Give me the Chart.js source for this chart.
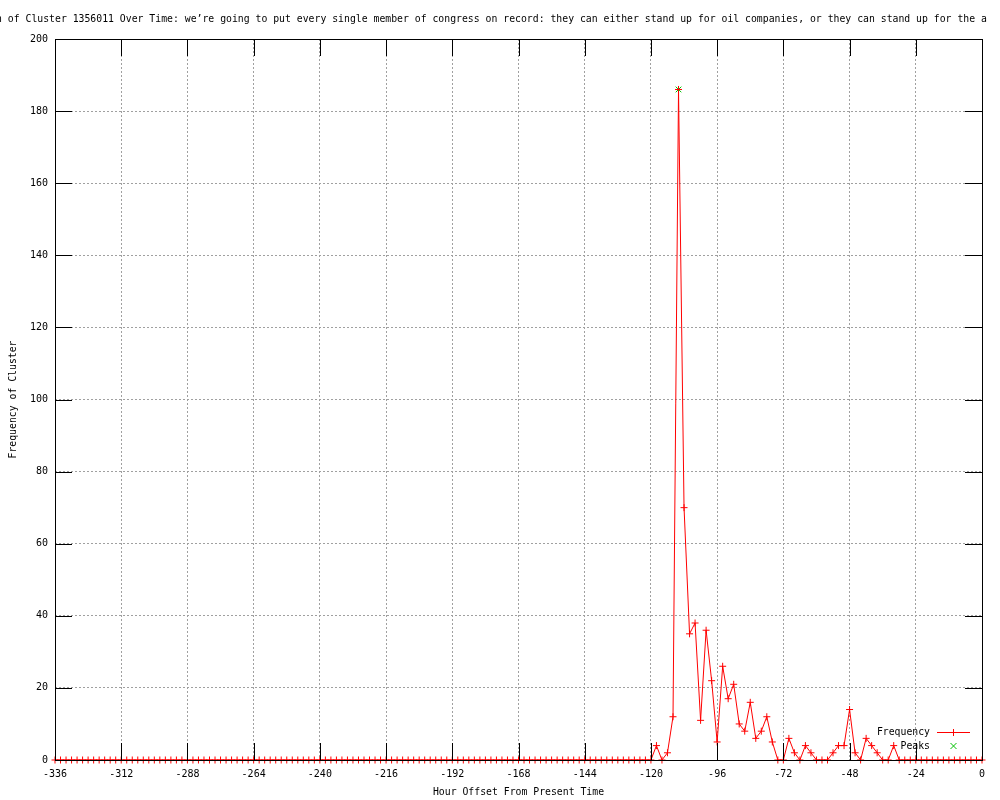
<!DOCTYPE html>
<html>
<head>
<meta charset="utf-8">
<script src="https://cdn.jsdelivr.net/npm/chart.js@4"></script>
<style>
  html, body { margin: 0; padding: 0; background: #fff; }
  canvas { display: block; }
</style>
</head>
<body>
<canvas id="myChart" width="1000" height="800"></canvas>
<script>
const titleText = "n of Cluster 1356011 Over Time: we\u2019re going to put every single member of congress on record: they can either stand up for oil companies, or they can stand up for the a";
const xTitle = 'Hour Offset From Present Time';
const yTitle = 'Frequency of Cluster';

// one value every 2 hours, from -336 to 0
const frequency = [
    0, 0, 0, 0, 0, 0, 0, 0, 0, 0, 0, 0, 0, 0, 0, 0, 0, 0, 0, 0,
    0, 0, 0, 0, 0, 0, 0, 0, 0, 0, 0, 0, 0, 0, 0, 0, 0, 0, 0, 0,
    0, 0, 0, 0, 0, 0, 0, 0, 0, 0, 0, 0, 0, 0, 0, 0, 0, 0, 0, 0,
    0, 0, 0, 0, 0, 0, 0, 0, 0, 0, 0, 0, 0, 0, 0, 0, 0, 0, 0, 0,
    0, 0, 0, 0, 0, 0, 0, 0, 0, 0, 0, 0, 0, 0, 0, 0, 0, 0, 0, 0,
    0, 0, 0, 0, 0, 0, 0, 0, 0,
    4, 0, 2, 12, 186, 70, 35, 38, 11, 36, 22, 5, 26, 17, 21, 10, 8, 16, 6, 8,
    12, 5, 0, 0, 6, 2, 0, 4, 2, 0, 0, 0, 2, 4, 4, 14, 2, 0, 6, 4,
    2, 0, 0, 4,
    0, 0, 0, 0, 0, 0, 0, 0, 0, 0, 0, 0, 0, 0, 0, 0
];
const hours = frequency.map((_, i) => -336 + 2 * i);

const peakHours = [-110];
const peakValues = [186];

const xMin = -336, xMax = 0, xStep = 24;
const yMin = 0, yMax = 200, yStep = 20;

const monoFont = '"DejaVu Sans Mono", "Liberation Mono", monospace';
const red = '#ff0000';
const green = '#00c000';

const gnuplotFrame = {
    id: 'gnuplotFrame',
    afterDatasetsDraw(chart) {
        const {ctx, chartArea: a, scales: {x, y}} = chart;
        const tic = 17;
        ctx.save();
        ctx.strokeStyle = '#000';
        ctx.lineWidth = 1;
        ctx.beginPath();
        x.ticks.forEach(t => {
            const px = Math.round(x.getPixelForValue(t.value)) + 0.5;
            ctx.moveTo(px, a.bottom); ctx.lineTo(px, a.bottom - tic);
            ctx.moveTo(px, a.top); ctx.lineTo(px, a.top + tic);
        });
        y.ticks.forEach(t => {
            const py = Math.round(y.getPixelForValue(t.value)) + 0.5;
            ctx.moveTo(a.left, py); ctx.lineTo(a.left + tic, py);
            ctx.moveTo(a.right, py); ctx.lineTo(a.right - tic, py);
        });
        ctx.stroke();
        ctx.strokeRect(a.left + 0.5, a.top + 0.5, a.right - a.left, a.bottom - a.top);
        ctx.restore();
    },
    afterDraw(chart) {
        const {ctx, chartArea: a} = chart;
        ctx.save();
        ctx.fillStyle = '#000';
        ctx.font = '9.8px ' + monoFont;
        ctx.textBaseline = 'middle';

        ctx.textAlign = 'left';
        ctx.fillText(titleText, -4, 19);

        ctx.textAlign = 'center';
        ctx.fillText(xTitle, (a.left + a.right) / 2, 792);

        ctx.save();
        ctx.translate(13, (a.top + a.bottom) / 2);
        ctx.rotate(-Math.PI / 2);
        ctx.fillText(yTitle, 0, 0);
        ctx.restore();

        // key
        ctx.textAlign = 'right';
        ctx.fillText('Frequency', 930, 732);
        ctx.fillText('Peaks', 930, 746);
        ctx.strokeStyle = red;
        ctx.lineWidth = 1;
        ctx.beginPath();
        ctx.moveTo(937, 732.5); ctx.lineTo(970, 732.5);
        ctx.moveTo(953.5, 729); ctx.lineTo(953.5, 736);
        ctx.stroke();
        ctx.strokeStyle = green;
        ctx.beginPath();
        ctx.moveTo(950.5, 743); ctx.lineTo(956.5, 749);
        ctx.moveTo(956.5, 743); ctx.lineTo(950.5, 749);
        ctx.stroke();
        ctx.restore();
    }
};

const ctx = document.getElementById('myChart');
new Chart(ctx, {
    type: 'line',
    data: {
        datasets: [
            {
                label: 'Frequency',
                data: hours.map((h, i) => ({x: h, y: frequency[i]})),
                borderColor: red,
                borderWidth: 1,
                tension: 0,
                pointStyle: 'cross',
                pointRadius: 3.5,
                pointBorderColor: red,
                pointBorderWidth: 1,
                clip: false
            },
            {
                label: 'Peaks',
                data: peakHours.map((h, i) => ({x: h, y: peakValues[i]})),
                showLine: false,
                pointStyle: 'crossRot',
                pointRadius: 4,
                pointBorderColor: green,
                pointBorderWidth: 1,
                clip: false
            }
        ]
    },
    options: {
        responsive: false,
        animation: false,
        devicePixelRatio: 1,
        layout: {
            padding: {top: 39, right: 18, left: 0, bottom: 0}
        },
        scales: {
            x: {
                type: 'linear',
                min: xMin,
                max: xMax,
                afterFit: s => { s.height = 40; },
                ticks: {
                    stepSize: xStep,
                    color: '#000',
                    padding: 8,
                    maxRotation: 0,
                    font: {family: monoFont, size: 10}
                },
                grid: {color: '#a0a0a0', drawTicks: false},
                border: {display: false, dash: [2, 2]}
            },
            y: {
                min: yMin,
                max: yMax,
                afterFit: s => { s.width = 55; },
                ticks: {
                    stepSize: yStep,
                    color: '#000',
                    padding: 7,
                    font: {family: monoFont, size: 10}
                },
                grid: {color: '#a0a0a0', drawTicks: false},
                border: {display: false, dash: [2, 2]}
            }
        },
        plugins: {
            legend: {display: false},
            tooltip: {enabled: false},
            title: {display: false}
        }
    },
    plugins: [gnuplotFrame]
});
</script>
</body>
</html>
